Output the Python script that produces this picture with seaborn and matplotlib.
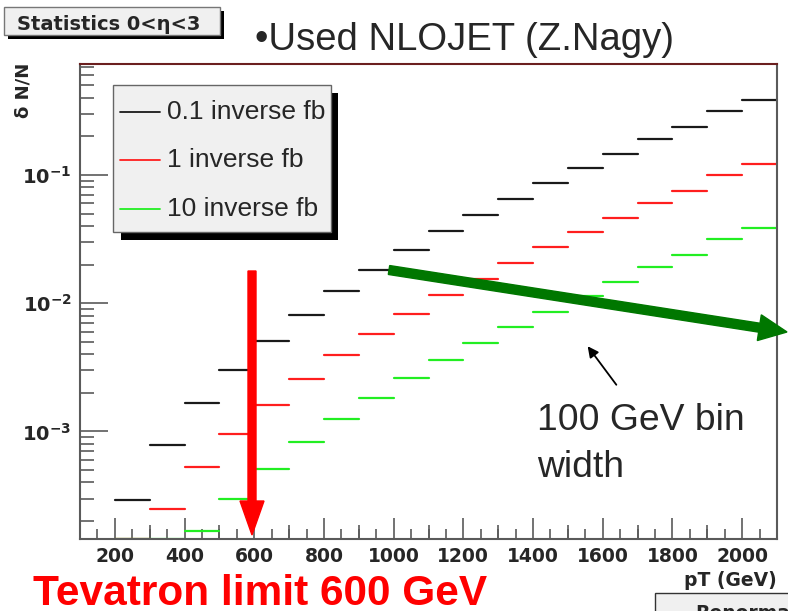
import numpy as np
import pandas as pd
import matplotlib
matplotlib.use("Agg")
import matplotlib.pyplot as plt
import seaborn as sns
from matplotlib.ticker import MultipleLocator, LogLocator, FuncFormatter, NullFormatter
from matplotlib.transforms import Affine2D
from matplotlib.patches import Rectangle, FancyArrow, FancyArrowPatch
from matplotlib.lines import Line2D

sns.set_theme(style="white")
plt.rcParams['font.family'] = ['DejaVu Sans']
plt.rcParams['mathtext.fontset'] = 'dejavusans'

# pT bins, 100 GeV wide
bin_lo = [200, 300, 400, 500, 600, 700, 800, 900, 1000, 1100, 1200, 1300,
          1400, 1500, 1600, 1700, 1800, 1900, 2000]
bin_width = 100

# dN/N
err_01fb = [2.93e-4, 7.87e-4, 1.66e-3, 3.02e-3, 5.11e-3, 8.15e-3, 1.25e-2, 1.83e-2,
            2.62e-2, 3.64e-2, 4.91e-2, 6.53e-2, 8.61e-2, 0.113, 0.146, 0.191,
            0.237, 0.316, 0.385]
err_1fb = [9.3e-5, 2.49e-4, 5.25e-4, 9.6e-4, 1.62e-3, 2.58e-3, 3.95e-3, 5.8e-3,
           8.3e-3, 1.15e-2, 1.55e-2, 2.07e-2, 2.72e-2, 3.57e-2, 4.6e-2, 6.0e-2,
           7.5e-2, 1.0e-1, 1.22e-1]
err_10fb = [2.9e-5, 7.9e-5, 1.66e-4, 3.0e-4, 5.1e-4, 8.2e-4, 1.25e-3, 1.83e-3,
            2.6e-3, 3.6e-3, 4.9e-3, 6.5e-3, 8.6e-3, 1.13e-2, 1.46e-2, 1.9e-2,
            2.37e-2, 3.16e-2, 3.85e-2]

series_names = ["0.1 inverse fb", "1 inverse fb", "10 inverse fb"]
series_colors = ["#1a1a1a", "#ff1e1e", "#22ee22"]

ymin, ymax = 1.45e-4, 0.733

W, H = 788, 611
fig = plt.figure(figsize=(W / 100, H / 100), dpi=100)
ax = fig.add_axes([80 / W, 1 - 539 / H, 697 / W, 475 / H])
ax.set_yscale('log')

# build segments (ROOT clamps underflow bins at the bottom of the frame)
rows = []
for name, vals in zip(series_names, [err_01fb, err_1fb, err_10fb]):
    for i, (lo, v) in enumerate(zip(bin_lo, vals)):
        v = max(v, ymin)
        rows.append((name, i, lo, v))
        rows.append((name, i, lo + bin_width, v))
df = pd.DataFrame(rows, columns=['series', 'bin', 'pt', 'val'])

sns.lineplot(data=df, x='pt', y='val', hue='series', units='bin', estimator=None,
             palette=dict(zip(series_names, series_colors)), lw=1.6,
             legend=False, ax=ax, sort=False)

ax.set_xlim(100, 2100)
ax.set_ylim(ymin, ymax)
ax.set_xlabel('')
ax.set_ylabel('')

# frame
for s in ['left', 'bottom', 'right']:
    ax.spines[s].set_color('#5a5a5a')
    ax.spines[s].set_linewidth(1.5)
ax.spines['top'].set_color('#6b1f1f')
ax.spines['top'].set_linewidth(1.5)

# ticks, ROOT style
ax.xaxis.set_major_locator(MultipleLocator(200))
ax.xaxis.set_minor_locator(MultipleLocator(50))
ax.yaxis.set_major_locator(LogLocator(base=10))
ax.yaxis.set_minor_locator(LogLocator(base=10, subs=np.arange(2, 10)))
ax.yaxis.set_minor_formatter(NullFormatter())
ax.yaxis.set_major_formatter(FuncFormatter(lambda v, p: r'$\mathbf{10^{%d}}$' % int(round(np.log10(v)))))
ax.tick_params(axis='x', which='major', direction='in', length=15, width=1.2, color='#5a5a5a',
               labelsize=13.5, pad=6, bottom=True, top=False)
ax.tick_params(axis='x', which='minor', direction='in', length=7, width=1.2, color='#5a5a5a',
               bottom=True, top=False)
ax.tick_params(axis='y', which='major', direction='in', length=20, width=1.2, color='#5a5a5a',
               labelsize=14, pad=6, left=True, right=False)
ax.tick_params(axis='y', which='minor', direction='in', length=10, width=1.2, color='#5a5a5a',
               left=True, right=False)
for lab in ax.get_xticklabels():
    lab.set_fontweight('bold')

sec = ax.secondary_xaxis('bottom')
sec.set_xticks([300, 500, 700, 900, 1100, 1300, 1500, 1700, 1900])
sec.tick_params(direction='in', length=10, width=1.2, color='#5a5a5a', labelbottom=False)
sec.spines['bottom'].set_visible(False)

# pixel coordinates, origin top-left
pix = Affine2D().scale(1, -1).translate(0, H)

# title box
fig.add_artist(Rectangle((8, 11), 216, 28, facecolor='black', edgecolor='none', transform=pix, zorder=4))
fig.add_artist(Rectangle((4, 7), 216, 28, facecolor='#f0f0f0', edgecolor='#777777', lw=1, transform=pix, zorder=5))
fig.text(17, 30, 'Statistics 0<η<3', transform=pix, fontsize=14, fontweight='bold',
         va='baseline', ha='left', zorder=6)

fig.text(255, 50, '•Used NLOJET (Z.Nagy)', transform=pix, fontsize=27.5,
         family='Liberation Sans', va='baseline', ha='left')

fig.text(24, 90, 'δ N/N', transform=pix, fontsize=13, fontweight='bold', rotation=90,
         va='center', ha='center')

fig.text(777, 586, 'pT (GeV)', transform=pix, fontsize=13.5, fontweight='bold',
         va='baseline', ha='right')

# legend box with ROOT shadow
fig.add_artist(Rectangle((121, 93), 217, 147, facecolor='black', edgecolor='none', transform=pix, zorder=4))
fig.add_artist(Rectangle((113, 85), 218, 147, facecolor='#f0f0f0', edgecolor='#666666', lw=1,
                         transform=pix, zorder=5))
for name, col, yy in zip(series_names, series_colors, [112, 160, 209]):
    fig.add_artist(Line2D([120, 160], [yy, yy], color=col, lw=1.3, transform=pix, zorder=6))
    fig.text(167, yy, name, transform=pix, fontsize=19, family='Liberation Sans',
             va='center', ha='left', zorder=6)

# arrows
fig.add_artist(FancyArrow(252, 271, 0, 264, width=8, head_width=24, head_length=34,
                          length_includes_head=True, color='#ff0000', transform=pix, zorder=7))
fig.add_artist(FancyArrow(389, 270, 398, 62, width=9, head_width=26, head_length=28,
                          length_includes_head=True, color='#007700', transform=pix, zorder=7))
fig.add_artist(FancyArrowPatch((618, 387), (586, 344), arrowstyle='-|>', mutation_scale=16,
                               lw=1.3, color='black', transform=pix, zorder=7))

fig.text(537, 430, '100 GeV bin', transform=pix, fontsize=26.8, family='Liberation Sans',
         va='baseline', ha='left')
fig.text(537, 477, 'width', transform=pix, fontsize=26.8, family='Liberation Sans',
         va='baseline', ha='left')

fig.text(33, 605, 'Tevatron limit 600 GeV', transform=pix, fontsize=30.5, fontweight='bold',
         family='Liberation Sans', color='#ff0000', va='baseline', ha='left')

# clipped box in the corner
fig.add_artist(Rectangle((655, 593), 150, 40, facecolor='#f0f0f0', edgecolor='#333333', lw=1,
                         transform=pix, zorder=5))
fig.text(695, 604, 'Renormalization', transform=pix, fontsize=13.5, fontweight='bold',
         va='top', ha='left', zorder=6)

fig.savefig('out.png', dpi=100)
